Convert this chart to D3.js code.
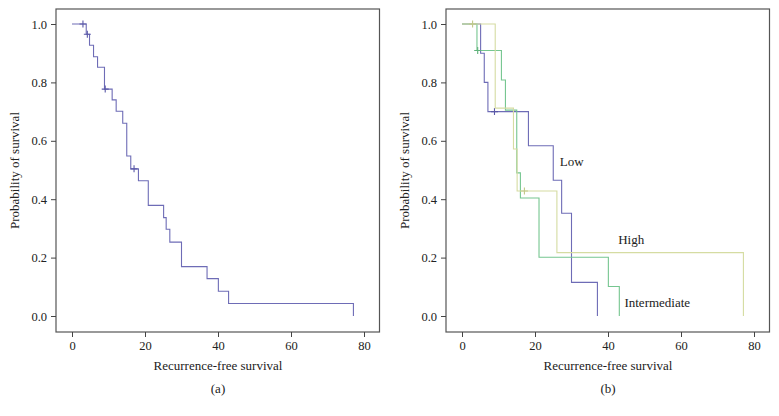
<!DOCTYPE html>
<html>
<head>
<meta charset="utf-8">
<script src="https://cdn.jsdelivr.net/npm/d3@7"></script>
<style>
  html, body { margin: 0; padding: 0; background: #fff; }
  svg { display: block; }
  text { font-family: "Liberation Serif", "DejaVu Serif", serif; fill: #222; }
</style>
</head>
<body>
<svg id="chart" width="779" height="416"></svg>
<script>
// ---------- data ----------
const xTicks = [0, 20, 40, 60, 80];
const yTicks = [0.0, 0.2, 0.4, 0.6, 0.8, 1.0];
const xTitle = "Recurrence-free survival";
const yTitle = "Probability of survival";
const panelLabels = ["(a)", "(b)"];

// Panel (a): overall KM curve
const allTimes = [0, 3.9, 4.8, 5.9, 7.0, 8.9, 11.0, 12.1, 13.9, 15.0, 16.1, 18.2, 20.9, 25.1, 25.8, 26.8, 30.0, 37.0, 40.1, 42.9, 77.1];
const allSurv  = [1.0, 0.965, 0.927, 0.888, 0.852, 0.777, 0.740, 0.701, 0.660, 0.548, 0.504, 0.463, 0.379, 0.337, 0.297, 0.253, 0.169, 0.128, 0.085, 0.043, 0.0];
const allCensorTimes = [3.0, 4.2, 9.1, 17.0];
const allCensorSurv  = [1.0, 0.965, 0.777, 0.504];

// Panel (b): risk groups
const groupNames = ["Low", "Intermediate", "High"];
const lowTimes = [0, 5.1, 6.1, 7.1, 18.2, 25.0, 27.3, 30.0, 37.1];
const lowSurv  = [1.0, 0.9, 0.8, 0.7, 0.583, 0.465, 0.352, 0.115, 0.0];
const lowCensorTimes = [8.9];
const lowCensorSurv  = [0.7];

const intTimes = [0, 4.1, 10.8, 11.9, 15.0, 16.0, 21.1, 40.1, 43.1];
const intSurv  = [1.0, 0.909, 0.808, 0.705, 0.49, 0.404, 0.201, 0.101, 0.0];
const intCensorTimes = [4.3];
const intCensorSurv  = [0.909];

const highTimes = [0, 9.1, 14.1, 15.1, 26.0, 77.1];
const highSurv  = [1.0, 0.712, 0.572, 0.428, 0.217, 0.0];
const highCensorTimes = [2.9, 17.1];
const highCensorSurv  = [1.0, 0.428];

// label anchor points (data coordinates)
const groupLabelT = [26.8, 44.5, 42.8];
const groupLabelS = [0.515, 0.032, 0.246];

// ---------- styles ----------
const colors = { all: "#6e6cb6", Low: "#6e6cb6", Intermediate: "#76c690", High: "#d5dca2" };
const censorColors = { all: "#5b59a8", Low: "#5b59a8", Intermediate: "#5fb27a", High: "#c3c98a" };

const svg = d3.select("#chart");

function panel(offsetX, series, labelText, annotations) {
  const boxL = 56 + offsetX, boxR = 379.5 + offsetX, boxT = 9, boxB = 332;
  const x = d3.scaleLinear().domain([0, 80]).range([72 + offsetX, 364 + offsetX]);
  const y = d3.scaleLinear().domain([0, 1]).range([316, 24]);
  const g = svg.append("g");

  // box
  g.append("rect")
    .attr("x", boxL).attr("y", boxT)
    .attr("width", boxR - boxL).attr("height", boxB - boxT)
    .attr("fill", "none").attr("stroke", "#555").attr("stroke-width", 1.2);

  // axes
  const xAxis = d3.axisBottom(x).tickValues(xTicks).tickSize(5).tickSizeOuter(0).tickPadding(4);
  const xg = g.append("g").attr("transform", `translate(0,${boxB})`).call(xAxis);
  xg.select(".domain").remove();
  xg.selectAll("line").attr("stroke", "#444");
  xg.selectAll("text").attr("font-size", 12.5).attr("fill", "#222")
    .attr("font-family", "Liberation Serif, serif");

  const yAxis = d3.axisLeft(y).tickValues(yTicks).tickFormat(d3.format(".1f")).tickSize(5).tickPadding(4);
  const yg = g.append("g").attr("transform", `translate(${boxL},0)`).call(yAxis);
  yg.select(".domain").remove();
  yg.selectAll("line").attr("stroke", "#444");
  yg.selectAll("text").attr("font-size", 12.5).attr("fill", "#222")
    .attr("font-family", "Liberation Serif, serif");

  // titles
  g.append("text").attr("x", (72 + 364) / 2 + offsetX).attr("y", 370)
    .attr("text-anchor", "middle").attr("font-size", 13).text(xTitle);
  g.append("text").attr("x", (72 + 364) / 2 + offsetX).attr("y", 393)
    .attr("text-anchor", "middle").attr("font-size", 13).text(labelText);
  g.append("text")
    .attr("transform", `translate(${19 + offsetX},${(boxT + boxB) / 2}) rotate(-90)`)
    .attr("text-anchor", "middle").attr("font-size", 13).text(yTitle);

  // curves
  const line = d3.line().x(d => x(d[0])).y(d => y(d[1])).curve(d3.curveStepAfter);
  series.forEach(s => {
    const pts = s.times.map((t, i) => [t, s.surv[i]]);
    g.append("path").datum(pts)
      .attr("d", line)
      .attr("fill", "none")
      .attr("stroke", colors[s.key])
      .attr("stroke-width", 1.1);
    s.cTimes.forEach((t, i) => {
      const cx = x(t), cy = y(s.cSurv[i]);
      g.append("path")
        .attr("d", `M${cx - 3.5},${cy}H${cx + 3.5}M${cx},${cy - 3.5}V${cy + 3.5}`)
        .attr("stroke", censorColors[s.key]).attr("stroke-width", 1.1).attr("fill", "none");
    });
  });

  // annotations
  (annotations || []).forEach(a => {
    g.append("text").attr("x", x(a.t)).attr("y", y(a.s))
      .attr("font-size", 13).text(a.text);
  });
}

panel(0, [
  { key: "all", times: allTimes, surv: allSurv, cTimes: allCensorTimes, cSurv: allCensorSurv }
], panelLabels[0]);

panel(390, [
  { key: "Low", times: lowTimes, surv: lowSurv, cTimes: lowCensorTimes, cSurv: lowCensorSurv },
  { key: "Intermediate", times: intTimes, surv: intSurv, cTimes: intCensorTimes, cSurv: intCensorSurv },
  { key: "High", times: highTimes, surv: highSurv, cTimes: highCensorTimes, cSurv: highCensorSurv }
], panelLabels[1], groupNames.map((n, i) => ({ text: n, t: groupLabelT[i], s: groupLabelS[i] })));
</script>
</body>
</html>
